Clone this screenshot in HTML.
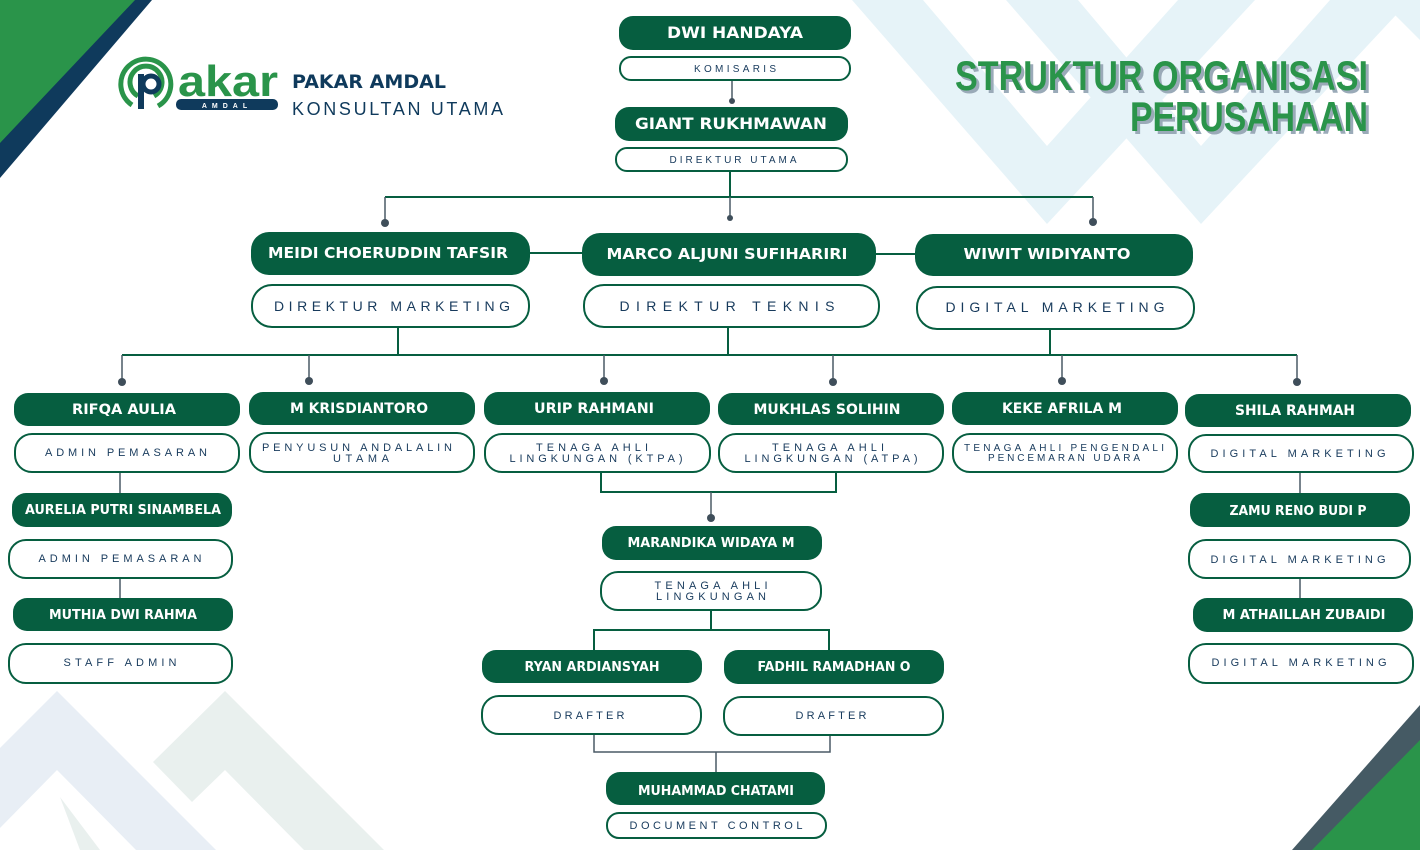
<!DOCTYPE html>
<html><head><meta charset="utf-8"><style>
html,body{margin:0;padding:0;background:#fff;}
svg{display:block;}
.n{fill:#065e40;}
.t{fill:#fff;stroke:#065e40;stroke-width:2;}
.nt{fill:#fff;font-family:"DejaVu Sans","Liberation Sans",sans-serif;font-weight:bold;text-anchor:middle;}
.tt{fill:#173a5c;font-family:"Liberation Sans",sans-serif;text-anchor:middle;}
.ln{stroke:#065e40;stroke-width:2;fill:none;}
.lg{stroke:#4a5a66;stroke-width:1.5;fill:none;}
.dot{fill:#3f4e5a;}
</style></head><body>
<svg width="1420" height="850" viewBox="0 0 1420 850" xmlns="http://www.w3.org/2000/svg">
<!-- background decorations -->
<g fill="#e6f3f8">
<polygon points="852,0 923,0 1047,146 1178,0 1255,0 1047,224"/>
<polygon points="1006,0 1078,0 1201,146 1330,0 1410,0 1201,224"/>
<polygon points="1330,0 1420,0 1420,40 1380,0"/>
</g>
<polygon points="0,748 57,691 216,850 136,850 57,770 0,828" fill="#e8eef5"/>
<polygon points="153,762 225,691 384,850 304,850 225,770 192,802" fill="#e9f0ee"/>
<polygon points="60,797 100,850 80,850" fill="#e9f0ee"/>
<polygon points="0,0 152,0 0,178" fill="#0f3a5c"/>
<polygon points="0,0 135,0 0,143" fill="#2a944a"/>
<polygon points="1420,705 1420,850 1292,850" fill="#455a64"/>
<polygon points="1420,740 1420,850 1312,850" fill="#2a944a"/>

<!-- logo -->
<g fill="none" stroke="#2a944a" stroke-width="5">
<path d="M132,105 A25,25 0 1 1 158,106"/>
<path d="M138,96 A16,16 0 1 1 154,96"/>
</g>
<rect x="138" y="74" width="6" height="35" fill="#0f3a5c"/>
<circle cx="151" cy="84" r="8" fill="none" stroke="#0f3a5c" stroke-width="5"/>
<text x="178" y="96" font-family="Liberation Sans,sans-serif" font-weight="bold" font-size="44" fill="#2a944a" textLength="100" lengthAdjust="spacingAndGlyphs">akar</text>
<rect x="176" y="99" width="102" height="11" rx="5" fill="#0f3a5c"/>
<text x="227" y="108" font-family="Liberation Sans,sans-serif" font-weight="bold" font-size="7" fill="#fff" text-anchor="middle" letter-spacing="5">AMDAL</text>
<text x="292" y="88" font-family="DejaVu Sans,sans-serif" font-weight="bold" font-size="19" fill="#0f3a5c" textLength="154" lengthAdjust="spacingAndGlyphs">PAKAR AMDAL</text>
<text x="292" y="115" font-family="Liberation Sans,sans-serif" font-size="18" fill="#0f3a5c" textLength="211" lengthAdjust="spacing">KONSULTAN UTAMA</text>

<!-- title -->
<g font-family="Liberation Sans Narrow,Liberation Sans,sans-serif" font-weight="bold" font-size="42" text-anchor="end">
<text x="1371" y="93" fill="#9aaab8" textLength="413" lengthAdjust="spacingAndGlyphs">STRUKTUR ORGANISASI</text>
<text x="1368" y="90" fill="#2a944a" textLength="413" lengthAdjust="spacingAndGlyphs">STRUKTUR ORGANISASI</text>
<text x="1371" y="134" fill="#9aaab8" textLength="238" lengthAdjust="spacingAndGlyphs">PERUSAHAAN</text>
<text x="1368" y="131" fill="#2a944a" textLength="238" lengthAdjust="spacingAndGlyphs">PERUSAHAAN</text>
</g>

<!-- connectors -->
<path class="lg" d="M732,80 V100"/><circle class="dot" cx="732" cy="101" r="3"/>
<path class="ln" d="M730,171 V197 M385,197 H1093"/>
<path class="lg" d="M385,197 V221 M730,197 V216 M1093,197 V221"/>
<circle class="dot" cx="385" cy="223" r="4"/><circle class="dot" cx="730" cy="218" r="3"/><circle class="dot" cx="1093" cy="222" r="4"/>
<path class="ln" d="M530,253 H582 M876,254 H915"/>
<path class="ln" d="M398,327 V355 M728,328 V355 M1050,330 V355 M122,355 H1297"/>
<path class="lg" d="M122,355 V380 M309,355 V379 M604,355 V379 M833,355 V380 M1062,355 V379 M1297,355 V380"/>
<circle class="dot" cx="122" cy="382" r="4"/><circle class="dot" cx="309" cy="381" r="4"/><circle class="dot" cx="604" cy="381" r="4"/><circle class="dot" cx="833" cy="382" r="4"/><circle class="dot" cx="1062" cy="381" r="4"/><circle class="dot" cx="1297" cy="382" r="4"/>
<path class="lg" d="M120,472 V493 M120,578 V598 M1300,472 V493 M1300,578 V598"/>
<path class="ln" d="M601,472 V492 H836 V472"/>
<path class="lg" d="M711,492 V516"/><circle class="dot" cx="711" cy="518" r="4"/>
<path class="ln" d="M711,610 V630 M594,650 V630 H829 V650"/>
<path class="lg" d="M594,735 V752 H830 V735 M716,752 V772"/>

<!-- nodes -->
<rect class="n" x="619" y="16" width="232" height="34" rx="14"/>
<text class="nt" x="735" y="38" font-size="16" textLength="136" lengthAdjust="spacingAndGlyphs">DWI HANDAYA</text>
<rect class="t" x="620" y="57" width="230" height="23" rx="11"/>
<text class="tt" x="735" y="72" font-size="10" textLength="82" lengthAdjust="spacing">KOMISARIS</text>

<rect class="n" x="615" y="107" width="233" height="34" rx="14"/>
<text class="nt" x="731" y="129" font-size="16" textLength="192" lengthAdjust="spacingAndGlyphs">GIANT RUKHMAWAN</text>
<rect class="t" x="616" y="148" width="231" height="23" rx="11"/>
<text class="tt" x="733" y="163" font-size="10" textLength="127" lengthAdjust="spacing">DIREKTUR UTAMA</text>

<rect class="n" x="251" y="232" width="279" height="43" rx="18"/>
<text class="nt" x="388" y="258" font-size="15" textLength="240" lengthAdjust="spacingAndGlyphs">MEIDI CHOERUDDIN TAFSIR</text>
<rect class="t" x="252" y="285" width="277" height="42" rx="20"/>
<text class="tt" x="392" y="311" font-size="14" textLength="236" lengthAdjust="spacing">DIREKTUR MARKETING</text>

<rect class="n" x="582" y="233" width="294" height="43" rx="18"/>
<text class="nt" x="727" y="259" font-size="15" textLength="241" lengthAdjust="spacingAndGlyphs">MARCO ALJUNI SUFIHARIRI</text>
<rect class="t" x="584" y="285" width="295" height="42" rx="20"/>
<text class="tt" x="727" y="311" font-size="14" textLength="215" lengthAdjust="spacing">DIREKTUR TEKNIS</text>

<rect class="n" x="915" y="234" width="278" height="42" rx="18"/>
<text class="nt" x="1047" y="259" font-size="15" textLength="167" lengthAdjust="spacingAndGlyphs">WIWIT WIDIYANTO</text>
<rect class="t" x="917" y="287" width="277" height="42" rx="20"/>
<text class="tt" x="1055" y="312" font-size="14" textLength="219" lengthAdjust="spacing">DIGITAL MARKETING</text>

<!-- row 3 -->
<rect class="n" x="14" y="393" width="226" height="33" rx="14"/>
<text class="nt" x="124" y="414" font-size="14" textLength="104" lengthAdjust="spacingAndGlyphs">RIFQA AULIA</text>
<rect class="t" x="15" y="434" width="224" height="38" rx="17"/>
<text class="tt" x="126" y="456" font-size="11" textLength="162" lengthAdjust="spacing">ADMIN PEMASARAN</text>

<rect class="n" x="249" y="392" width="226" height="33" rx="14"/>
<text class="nt" x="359" y="413" font-size="14" textLength="138" lengthAdjust="spacingAndGlyphs">M KRISDIANTORO</text>
<rect class="t" x="250" y="433" width="224" height="39" rx="17"/>
<text class="tt" x="357" y="451" font-size="11" textLength="190" lengthAdjust="spacing">PENYUSUN ANDALALIN</text>
<text class="tt" x="361" y="462" font-size="11" textLength="56" lengthAdjust="spacing">UTAMA</text>

<rect class="n" x="484" y="392" width="226" height="33" rx="14"/>
<text class="nt" x="594" y="413" font-size="14" textLength="120" lengthAdjust="spacingAndGlyphs">URIP RAHMANI</text>
<rect class="t" x="485" y="434" width="225" height="38" rx="17"/>
<text class="tt" x="592" y="451" font-size="11" textLength="112" lengthAdjust="spacing">TENAGA AHLI</text>
<text class="tt" x="596" y="462" font-size="11" textLength="173" lengthAdjust="spacing">LINGKUNGAN (KTPA)</text>

<rect class="n" x="718" y="393" width="226" height="32" rx="14"/>
<text class="nt" x="827" y="414" font-size="14" textLength="147" lengthAdjust="spacingAndGlyphs">MUKHLAS SOLIHIN</text>
<rect class="t" x="719" y="434" width="224" height="38" rx="17"/>
<text class="tt" x="828" y="451" font-size="11" textLength="112" lengthAdjust="spacing">TENAGA AHLI</text>
<text class="tt" x="831" y="462" font-size="11" textLength="173" lengthAdjust="spacing">LINGKUNGAN (ATPA)</text>

<rect class="n" x="952" y="392" width="226" height="33" rx="14"/>
<text class="nt" x="1062" y="413" font-size="14" textLength="120" lengthAdjust="spacingAndGlyphs">KEKE AFRILA M</text>
<rect class="t" x="953" y="434" width="224" height="38" rx="17"/>
<text class="tt" x="1064" y="451" font-size="10" textLength="200" lengthAdjust="spacing">TENAGA AHLI PENGENDALI</text>
<text class="tt" x="1064" y="461" font-size="10" textLength="152" lengthAdjust="spacing">PENCEMARAN UDARA</text>

<rect class="n" x="1185" y="394" width="226" height="33" rx="14"/>
<text class="nt" x="1295" y="415" font-size="14" textLength="120" lengthAdjust="spacingAndGlyphs">SHILA RAHMAH</text>
<rect class="t" x="1189" y="435" width="224" height="37" rx="17"/>
<text class="tt" x="1298" y="457" font-size="11" textLength="175" lengthAdjust="spacing">DIGITAL MARKETING</text>

<!-- left column -->
<rect class="n" x="12" y="493" width="220" height="34" rx="14"/>
<text class="nt" x="123" y="514" font-size="13" textLength="196" lengthAdjust="spacingAndGlyphs">AURELIA PUTRI SINAMBELA</text>
<rect class="t" x="9" y="540" width="223" height="38" rx="17"/>
<text class="tt" x="120" y="562" font-size="11" textLength="163" lengthAdjust="spacing">ADMIN PEMASARAN</text>
<rect class="n" x="13" y="598" width="220" height="33" rx="14"/>
<text class="nt" x="123" y="619" font-size="13" textLength="148" lengthAdjust="spacingAndGlyphs">MUTHIA DWI RAHMA</text>
<rect class="t" x="9" y="644" width="223" height="39" rx="17"/>
<text class="tt" x="120" y="666" font-size="11" textLength="113" lengthAdjust="spacing">STAFF ADMIN</text>

<!-- right column -->
<rect class="n" x="1190" y="493" width="220" height="34" rx="14"/>
<text class="nt" x="1298" y="515" font-size="13" textLength="137" lengthAdjust="spacingAndGlyphs">ZAMU RENO BUDI P</text>
<rect class="t" x="1189" y="540" width="221" height="38" rx="17"/>
<text class="tt" x="1298" y="563" font-size="11" textLength="175" lengthAdjust="spacing">DIGITAL MARKETING</text>
<rect class="n" x="1193" y="598" width="220" height="34" rx="14"/>
<text class="nt" x="1304" y="619" font-size="13" textLength="163" lengthAdjust="spacingAndGlyphs">M ATHAILLAH ZUBAIDI</text>
<rect class="t" x="1189" y="644" width="224" height="39" rx="17"/>
<text class="tt" x="1299" y="666" font-size="11" textLength="175" lengthAdjust="spacing">DIGITAL MARKETING</text>

<!-- center -->
<rect class="n" x="602" y="526" width="220" height="34" rx="14"/>
<text class="nt" x="711" y="547" font-size="13" textLength="167" lengthAdjust="spacingAndGlyphs">MARANDIKA WIDAYA M</text>
<rect class="t" x="601" y="572" width="220" height="38" rx="17"/>
<text class="tt" x="711" y="589" font-size="11" textLength="113" lengthAdjust="spacing">TENAGA AHLI</text>
<text class="tt" x="711" y="600" font-size="11" textLength="110" lengthAdjust="spacing">LINGKUNGAN</text>

<rect class="n" x="482" y="650" width="220" height="33" rx="14"/>
<text class="nt" x="592" y="671" font-size="13" textLength="135" lengthAdjust="spacingAndGlyphs">RYAN ARDIANSYAH</text>
<rect class="t" x="482" y="696" width="219" height="38" rx="17"/>
<text class="tt" x="589" y="719" font-size="11" textLength="71" lengthAdjust="spacing">DRAFTER</text>
<rect class="n" x="724" y="650" width="220" height="34" rx="14"/>
<text class="nt" x="834" y="671" font-size="13" textLength="153" lengthAdjust="spacingAndGlyphs">FADHIL RAMADHAN O</text>
<rect class="t" x="724" y="697" width="219" height="38" rx="17"/>
<text class="tt" x="831" y="719" font-size="11" textLength="71" lengthAdjust="spacing">DRAFTER</text>

<rect class="n" x="606" y="772" width="219" height="33" rx="14"/>
<text class="nt" x="716" y="795" font-size="13" textLength="156" lengthAdjust="spacingAndGlyphs">MUHAMMAD CHATAMI</text>
<rect class="t" x="607" y="813" width="219" height="25" rx="12"/>
<text class="tt" x="716" y="829" font-size="11" textLength="173" lengthAdjust="spacing">DOCUMENT CONTROL</text>
</svg>
</body></html>
